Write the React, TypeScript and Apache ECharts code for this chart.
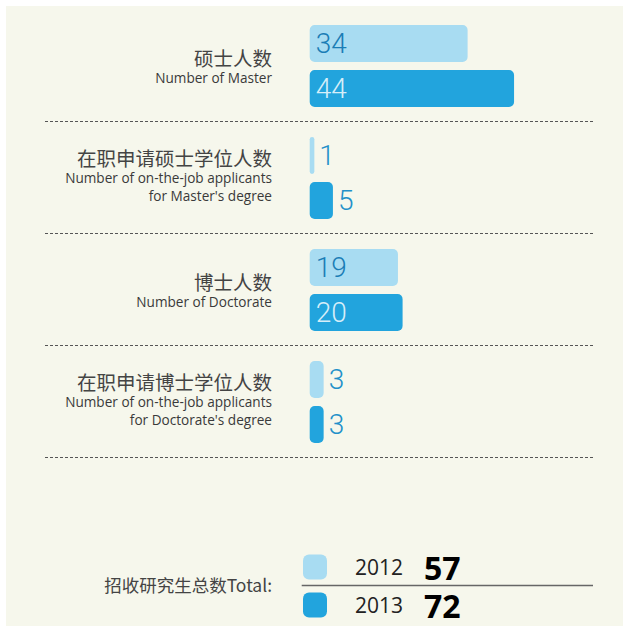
import React, { useEffect, useRef } from "react";
import * as echarts from "echarts";

const categories = ["硕士人数", "在职申请硕士学位人数", "博士人数", "在职申请博士学位人数"];
const englishLabels = [
  ["Number of Master"],
  ["Number of on-the-job applicants", "for Master's degree"],
  ["Number of Doctorate"],
  ["Number of on-the-job applicants", "for Doctorate's degree"],
];
const years = ["2012", "2013"];
const values2012 = [34, 1, 19, 3];
const values2013 = [44, 5, 20, 3];
const totalLabel = "招收研究生总数Total:";

const LIGHT = "#a8dcf2";
const DARK = "#22a4dd";
const X_MIN = -57;
const X_MAX = 61;
const NUM_FONT = "'Roboto', 'DejaVu Sans Condensed', sans-serif";
const CJK_FONT = "'Noto Sans CJK SC', 'Noto Sans', sans-serif";
const EN_FONT = "'Open Sans', 'Noto Sans', sans-serif";

function makeData(values: number[], insideColor: string) {
  return values.map((v) => {
    const inside = v >= 10;
    return {
      value: v,
      label: inside
        ? { position: "insideLeft", distance: 6, color: insideColor }
        : { position: "right", distance: 5, color: "#2290c9" },
    };
  });
}

export default function App() {
  const ref = useRef<HTMLDivElement>(null);
  useEffect(() => {
    if (!ref.current) return;
    const chart = echarts.init(ref.current, null, { renderer: "svg" });
    const totals = [values2012, values2013].map((arr) => arr.reduce((a, b) => a + b, 0));
    const barStyle = (color: string) => ({ color, borderRadius: 5 });
    const numLabel = { show: true, fontFamily: NUM_FONT, fontSize: 28, fontWeight: 300 };
    chart.setOption({
      animation: false,
      backgroundColor: "transparent",
      grid: { left: 39, right: 30, top: 4, bottom: 168, outerBoundsMode: "none" },
      xAxis: { type: "value", min: X_MIN, max: X_MAX, show: false },
      yAxis: {
        type: "category",
        inverse: true,
        data: categories,
        offset: -227,
        axisLine: { show: false },
        axisTick: { show: false },
        splitLine: { show: false },
        axisLabel: {
          margin: 0,
          align: "right",
          formatter: (value: string, idx: number) => {
            const en = englishLabels[idx];
            const lines = [`{cn|${value}}`, ...en.map((l) => `{en|${l}}`)];
            if (en.length > 1) lines.push("{gap| }");
            return lines.join("\n");
          },
          rich: {
            cn: { fontFamily: CJK_FONT, fontSize: 19.5, color: "#444", lineHeight: 23, align: "right" },
            en: { fontFamily: EN_FONT, fontSize: 13.6, color: "#3a3a3a", lineHeight: 17.5, align: "right" },
            gap: { fontSize: 2, lineHeight: 6 },
          },
        },
      },
      legend: {
        orient: "vertical",
        left: 297,
        top: 545,
        padding: 0,
        itemWidth: 24,
        itemHeight: 25,
        itemGap: 6,
        icon: "roundRect",
        selectedMode: false,
        data: years,
        formatter: (name: string) => `{y|${name}}{t|${totals[years.indexOf(name)]}}`,
        textStyle: {
          rich: {
            y: { fontFamily: EN_FONT, fontSize: 21, color: "#222", width: 45, padding: [0, 0, 0, 23], lineHeight: 32 },
            t: { fontFamily: EN_FONT, fontSize: 32, fontWeight: "bold", color: "#000", padding: [0, 0, 0, 24], lineHeight: 32 },
          },
        },
      },
      series: [
        {
          name: years[0],
          type: "bar",
          barWidth: 37,
          barGap: "22%",
          itemStyle: barStyle(LIGHT),
          label: numLabel,
          data: makeData(values2012, "#1a7db6"),
        },
        {
          name: years[1],
          type: "bar",
          barWidth: 37,
          barGap: "22%",
          itemStyle: barStyle(DARK),
          label: numLabel,
          data: makeData(values2013, "#d6eef9"),
        },
      ],
    });

    // dashed separators at category band boundaries, located through the axes
    const ys = categories.map((c) => chart.convertToPixel({ yAxisIndex: 0 }, c) as number);
    const band = ys[1] - ys[0];
    const xl = chart.convertToPixel({ xAxisIndex: 0 }, X_MIN) as number;
    const xr = chart.convertToPixel({ xAxisIndex: 0 }, X_MAX) as number;
    const x0 = chart.convertToPixel({ xAxisIndex: 0 }, 0) as number;
    const sepLines = ys.map((y) => {
      const yy = Math.round(y + band / 2) - 0.5;
      return {
        type: "line",
        shape: { x1: xl, y1: yy, x2: xr, y2: yy },
        style: { stroke: "#555", lineWidth: 1.2, lineDash: [3, 2] },
        silent: true,
      };
    });
    chart.setOption({
      graphic: [
        ...sepLines,
        {
          type: "line",
          shape: { x1: x0 - 8, y1: 579.5, x2: xr, y2: 579.5 },
          style: { stroke: "#666", lineWidth: 1.5 },
          silent: true,
        },
        {
          type: "text",
          x: 266,
          y: 578,
          style: {
            text: totalLabel,
            fontFamily: CJK_FONT,
            fontSize: 17.5,
            fill: "#444",
            align: "right",
            verticalAlign: "middle",
          },
          silent: true,
        },
      ],
    });
    return () => chart.dispose();
  }, []);

  return (
    <div style={{ position: "fixed", left: 0, top: 0, width: 623, height: 626, background: "#fff" }}>
      <div
        ref={ref}
        style={{ position: "absolute", left: 6, top: 6, width: 617, height: 620, background: "#f6f7ec" }}
      />
    </div>
  );
}
